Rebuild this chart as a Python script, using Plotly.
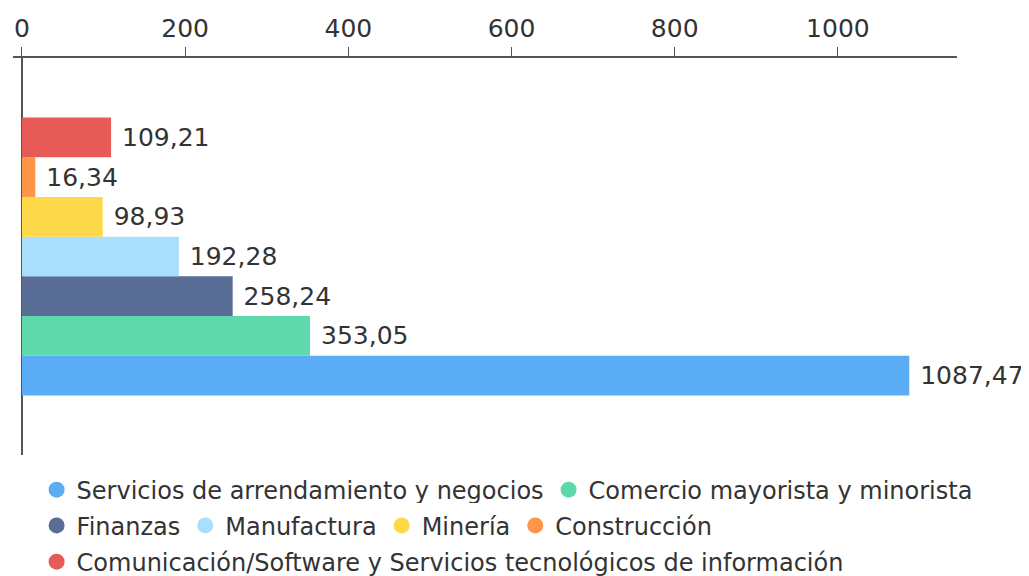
import plotly.graph_objects as go

sectors = [
    "Servicios de arrendamiento y negocios",
    "Comercio mayorista y minorista",
    "Finanzas",
    "Manufactura",
    "Minería",
    "Construcción",
    "Comunicación/Software y Servicios tecnológicos de información",
]
values = [1087.47, 353.05, 258.24, 192.28, 98.93, 16.34, 109.21]
colors = ["#5AACF5", "#5FD9AB", "#5A6D96", "#A9DFFA", "#FDD94A", "#FF9548", "#E65B57"]
legend_rows = ["legend", "legend", "legend2", "legend2", "legend2", "legend2", "legend3"]

FONT = "DejaVu Sans"

fig = go.Figure()
for name, v, c in zip(sectors, values, colors):
    fig.add_trace(go.Bar(
        x=[v], y=["total"], orientation="h", name=name,
        marker=dict(color=c, line=dict(width=0)),
        texttemplate=" %{x:.2f}", textposition="outside",
        textfont=dict(size=25, color="#333333"),
        cliponaxis=False, showlegend=False, legendgroup=name,
    ))
# circle legend markers, one legend per row
for name, c, lg in zip(sectors, colors, legend_rows):
    fig.add_trace(go.Scatter(
        x=[None], y=[None], mode="markers", name=name, legendgroup=name,
        legend=lg, marker=dict(symbol="circle", size=21, color=c),
    ))

leg = dict(orientation="h", x=0.025, xanchor="left", yanchor="middle", yref="container",
           font=dict(size=24, color="#333333"), itemwidth=30, tracegroupgap=0)

# page body adds an 8px offset, margins compensate for it
fig.update_layout(
    width=1029, height=576,
    paper_bgcolor="white", plot_bgcolor="white",
    font=dict(family=FONT, size=24, color="#333333"),
    separators=",.",
    barmode="group", bargap=0.3,
    margin=dict(l=5, r=80, t=50, b=129),
    xaxis=dict(
        side="top", range=[-11, 1146], tickvals=[0, 200, 400, 600, 800, 1000],
        showline=True, linecolor="#555555", linewidth=1.5,
        ticks="outside", ticklen=9, tickcolor="#555555",
        showgrid=False, zeroline=True, zerolinecolor="#555555", zerolinewidth=1.5,
        tickfont=dict(size=25, color="#333333"), automargin=False,
    ),
    yaxis=dict(showticklabels=False, showgrid=False, showline=False,
               zeroline=False, automargin=False),
    showlegend=True,
    legend=dict(leg, y=0.163),
    legend2=dict(leg, y=0.101),
    legend3=dict(leg, y=0.038),
)

fig.write_html("out.html")
